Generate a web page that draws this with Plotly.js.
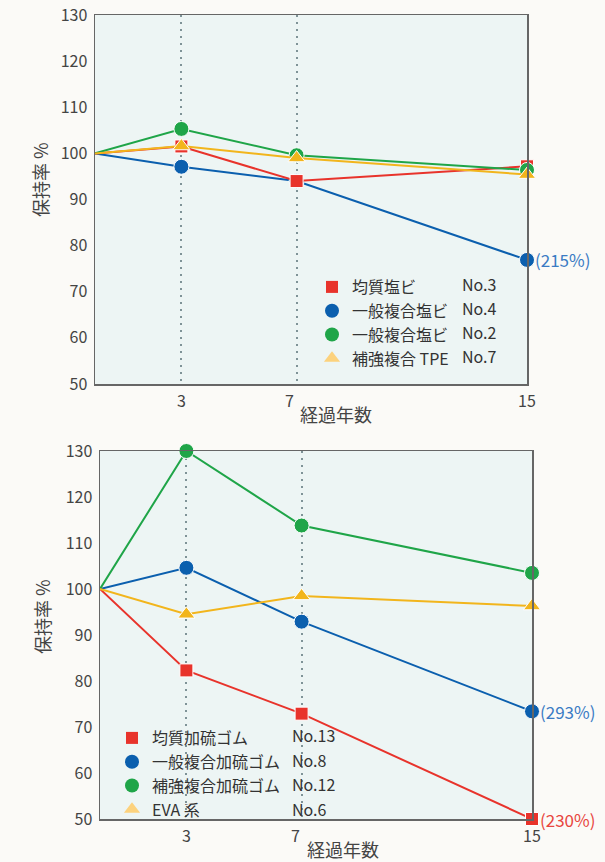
<!DOCTYPE html>
<html>
<head>
<meta charset="utf-8">
<script src="https://cdn.plot.ly/plotly-3.0.1.min.js"></script>
<style>
  html, body { margin: 0; padding: 0; background: #fbfaf7; }
  #chart { width: 605px; height: 862px; }
</style>
</head>
<body>
<div id="chart"></div>
<script>
// ---- data ----
const years = [0, 3, 7, 15];
const xTicks = [3, 7, 15];
const xTickText = ["3", "7", "15"];
const yTicks = [50, 60, 70, 80, 90, 100, 110, 120, 130];

// top chart
const topNames = ["均質塩ビ", "一般複合塩ビ", "一般複合塩ビ", "補強複合 TPE"];
const topNos = ["No.3", "No.4", "No.2", "No.7"];
const topRed = [100, 101.5, 94.0, 97.2];
const topBlue = [100, 97.1, 94.0, 76.9];
const topGreen = [100, 105.3, 99.6, 96.4];
const topYellow = [100, 101.6, 99.0, 95.4];

// bottom chart
const botNames = ["均質加硫ゴム", "一般複合加硫ゴム", "補強複合加硫ゴム", "EVA 系"];
const botNos = ["No.13", "No.8", "No.12", "No.6"];
const botRed = [100, 82.3, 72.9, 50];
const botBlue = [100, 104.6, 92.9, 73.4];
const botGreen = [100, 130, 113.8, 103.5];
const botYellow = [100, 94.5, 98.5, 96.3];

const topNotes = [{ x: 15, y: 76.9, text: "(215%)", series: "blue" }];
const botNotes = [
  { x: 15, y: 73.4, text: "(293%)", series: "blue" },
  { x: 15, y: 50, text: "(230%)", series: "red" }
];

// ---- styles ----
const C = { red: "#e8332b", blue: "#0b5fae", green: "#1fa548", yellow: "#f2b51c" };
const noteC = { red: "#e8463e", blue: "#3a7bc4" };
const legendPale = { red: "#e8332b", blue: "#0b5fae", green: "#1fa548", yellow: "#fcd27d" };
const FONT = '"Noto Sans CJK JP", "Noto Sans", sans-serif';
const W = 605, H = 862;
const M = { l: 95, r: 73, t: 15, b: 43 };
const pw = W - M.l - M.r, ph = H - M.t - M.b;
const px2x = p => (p - M.l) / pw;
const px2y = p => (H - M.b - p) / ph;

const symbols = ["square", "circle", "circle", "triangle-up"];
const sizes = [13, 15, 15, 15];
const keys = ["red", "blue", "green", "yellow"];

function lineTrace(x, y, key, sym, size, xa, ya) {
  return {
    x: x, y: y, xaxis: xa, yaxis: ya, type: "scatter", mode: "lines+markers",
    line: { color: C[key], width: 2 },
    // no marker at the starting point (year 0)
    marker: { color: C[key], symbol: sym, opacity: 1, size: x.map(v => v === 0 ? 0 : size) },
    showlegend: false, cliponaxis: false, hoverinfo: "skip"
  };
}
function legendTrace(name, key, sym, size, xa, ya, leg) {
  return {
    x: [null], y: [null], xaxis: xa, yaxis: ya, type: "scatter", mode: "markers",
    name: name, legend: leg,
    marker: { color: legendPale[key], symbol: sym, size: size, opacity: 1 },
    showlegend: true
  };
}

const topSeries = { red: topRed, blue: topBlue, green: topGreen, yellow: topYellow };
const botSeries = { red: botRed, blue: botBlue, green: botGreen, yellow: botYellow };
const drawOrder = ["blue", "red", "green", "yellow"];

const data = [];
drawOrder.forEach(k => {
  const i = keys.indexOf(k);
  data.push(lineTrace(years, topSeries[k], k, symbols[i], sizes[i], "x", "y"));
});
drawOrder.forEach(k => {
  const i = keys.indexOf(k);
  data.push(lineTrace(years, botSeries[k], k, symbols[i], sizes[i], "x2", "y2"));
});
keys.forEach((k, i) => data.push(legendTrace(topNames[i], k, symbols[i], sizes[i] - 1, "x", "y", "legend")));
keys.forEach((k, i) => data.push(legendTrace(botNames[i], k, symbols[i], sizes[i] - 1, "x2", "y2", "legend2")));

const topDomainY = [px2y(384), 1];
const botDomainY = [0, px2y(451)];
const topDomainX = [0, px2x(527)];
const botDomainX = [px2x(100), 1];

function xaxisDef(domain, anchor) {
  return {
    domain: domain, anchor: anchor, range: [0, 15], tickvals: xTicks, ticktext: xTickText,
    showticklabels: false,
    showgrid: true, gridcolor: "#7f9397", gridwidth: 2, griddash: "2px,5px",
    zeroline: false, showline: true, linecolor: "#666", linewidth: 1.5, mirror: true,
    ticks: "", fixedrange: true
  };
}
function yaxisDef(domain, anchor) {
  return {
    domain: domain, anchor: anchor, range: [50, 130], tickvals: yTicks,
    showgrid: false, zeroline: false, showline: true, linecolor: "#666", linewidth: 1.5, mirror: true,
    ticks: "", ticklabelstandoff: 3,
    tickfont: { family: FONT, size: 16, color: "#444" }, fixedrange: true
  };
}

const annotations = [];
// x tick labels (the "7" sits slightly left of its gridline in the original)
function addXTicks(xa, bottomPx, shift7) {
  xTicks.forEach((v, i) => annotations.push({
    xref: xa, yref: "paper", x: v, y: px2y(bottomPx), text: xTickText[i], showarrow: false,
    xanchor: "center", yanchor: "top", yshift: -3, xshift: v === 7 ? shift7 : 0,
    borderpad: 0,
    font: { family: FONT, size: 16, color: "#444" }
  }));
}
addXTicks("x", 384, -7);
addXTicks("x2", 819, -6);

function addTitle(text, xp, yp, angle) {
  annotations.push({
    xref: "paper", yref: "paper", x: px2x(xp), y: px2y(yp), text: text, showarrow: false,
    textangle: angle, font: { family: FONT, size: 18, color: "#444" },
    xanchor: "center", yanchor: "middle", borderpad: 0
  });
}
addTitle("経過年数", 336, 414, 0);
addTitle("経過年数", 343, 849, 0);
addTitle("保持率 %", 40, 179, -90);
addTitle("保持率 %", 42, 617, -90);

function addNotes(notes, xa, ya) {
  notes.forEach(n => annotations.push({
    xref: xa, yref: ya, x: n.x, y: n.y, text: n.text, showarrow: false,
    xanchor: "left", yanchor: "middle", xshift: 6,
    font: { family: FONT, size: 17, color: noteC[n.series] }
  }));
}
addNotes(topNotes, "x", "y");
addNotes(botNotes, "x2", "y2");

// "No." column of the legends
const topRows = [284, 308, 332, 356];
const botRows = [735, 760, 784, 809];
topNos.forEach((t, i) => annotations.push({
  xref: "paper", yref: "paper", x: px2x(460), y: px2y(topRows[i]), text: t, showarrow: false,
  xanchor: "left", yanchor: "middle", font: { family: FONT, size: 16, color: "#333" }
}));
botNos.forEach((t, i) => annotations.push({
  xref: "paper", yref: "paper", x: px2x(290), y: px2y(botRows[i]), text: t, showarrow: false,
  xanchor: "left", yanchor: "middle", font: { family: FONT, size: 16, color: "#333" }
}));

const legendCommon = {
  bgcolor: "rgba(0,0,0,0)", borderwidth: 0, font: { family: FONT, size: 16, color: "#333" },
  xanchor: "left", yanchor: "top", itemwidth: 30, tracegroupgap: 0, traceorder: "normal"
};

const layout = {
  width: W, height: H,
  margin: M,
  paper_bgcolor: "#fbfaf7",
  plot_bgcolor: "#edf5f4",
  font: { family: FONT },
  xaxis: xaxisDef(topDomainX, "y"),
  yaxis: yaxisDef(topDomainY, "x"),
  xaxis2: xaxisDef(botDomainX, "y2"),
  yaxis2: yaxisDef(botDomainY, "x2"),
  legend: Object.assign({}, legendCommon, { x: px2x(312), y: px2y(270) }),
  legend2: Object.assign({}, legendCommon, { x: px2x(112), y: px2y(721) }),
  annotations: annotations,
  showlegend: true
};

Plotly.newPlot("chart", data, layout, { displayModeBar: false, staticPlot: true });
</script>
</body>
</html>
